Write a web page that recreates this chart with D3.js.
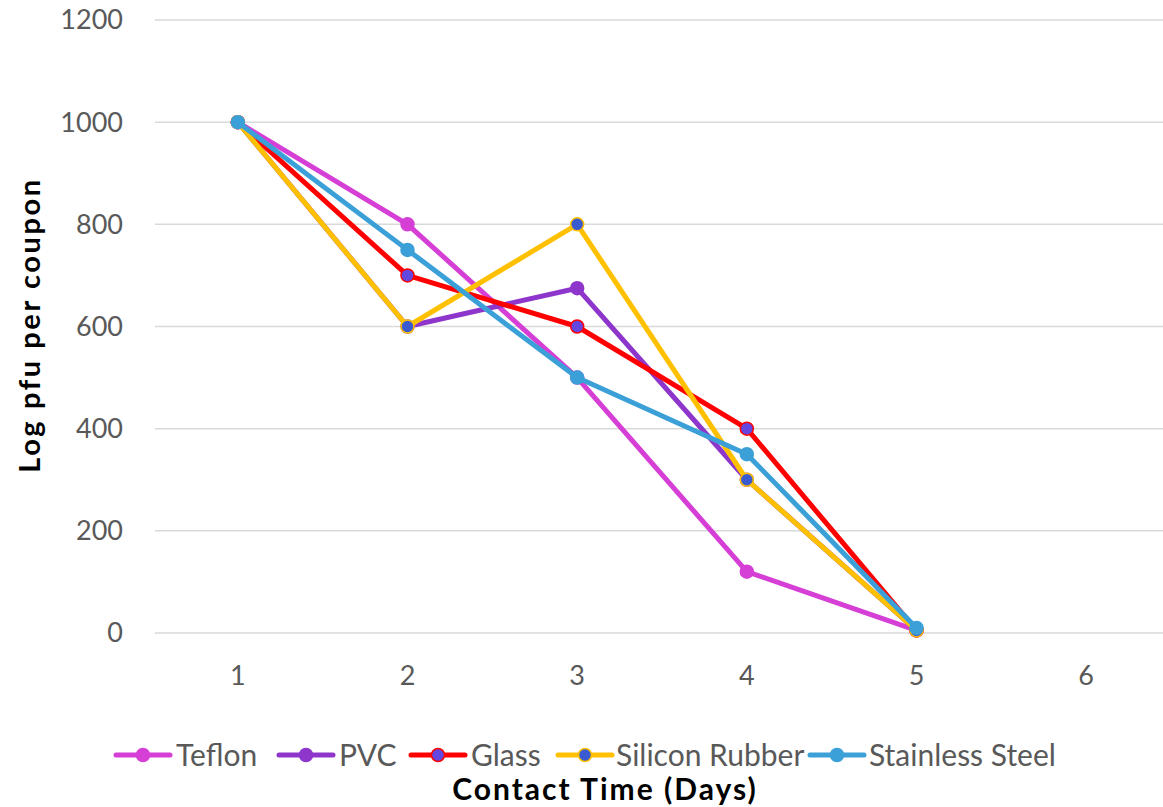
<!DOCTYPE html>
<html>
<head>
<meta charset="utf-8">
<script src="https://cdn.jsdelivr.net/npm/d3@7"></script>
<style>
  body { margin: 0; background: #fff; }
  svg { display: block; }
</style>
</head>
<body>
<div id="chart"></div>
<script>
const days = ["1", "2", "3", "4", "5", "6"]
const yTicks = [0, 200, 400, 600, 800, 1000, 1200]

const teflon = [1000, 800, 500, 120, 5]
const pvc = [1000, 600, 675, 300, 5]
const glass = [1000, 700, 600, 400, 5]
const siliconRubber = [1000, 600, 800, 300, 5]
const stainlessSteel = [1000, 750, 500, 350, 10]

const series = [
    {name: "Teflon", values: teflon, color: "#d63fd6", fill: "#d63fd6"},
    {name: "PVC", values: pvc, color: "#8e36cc", fill: "#8e36cc"},
    {name: "Glass", values: glass, color: "#ff0000", fill: "#6347e0"},
    {name: "Silicon Rubber", values: siliconRubber, color: "#ffc000", fill: "#3a5bd0"},
    {name: "Stainless Steel", values: stainlessSteel, color: "#3ca0d8", fill: "#3ca0d8"}
]

const WIDTH = 1163
const HEIGHT = 807
const font = "Lato, 'Open Sans', sans-serif"

const svg = d3.select("#chart")
    .append("svg")
    .attr("width", WIDTH)
    .attr("height", HEIGHT)

const x = d3.scaleBand()
    .domain(days)
    .range([153, 1171])

const y = d3.scaleLinear()
    .domain([0, 1200])
    .range([633, 20])

const cx = d => x(d) + x.bandwidth() / 2

// gridlines
svg.append("g")
    .selectAll("line")
    .data(yTicks)
    .enter()
    .append("line")
    .attr("x1", 155)
    .attr("x2", 1163)
    .attr("y1", d => y(d))
    .attr("y2", d => y(d))
    .attr("stroke", "#d9d9d9")
    .attr("stroke-width", 1.5)

// y tick labels
svg.append("g")
    .selectAll("text")
    .data(yTicks)
    .enter()
    .append("text")
    .attr("x", 123)
    .attr("y", d => y(d))
    .attr("dy", "0.35em")
    .attr("text-anchor", "end")
    .attr("font-family", font)
    .attr("font-size", "27px")
    .attr("fill", "#595959")
    .text(d => d)

// x tick labels
svg.append("g")
    .selectAll("text")
    .data(days)
    .enter()
    .append("text")
    .attr("x", d => cx(d))
    .attr("y", 676)
    .attr("dy", "0.35em")
    .attr("text-anchor", "middle")
    .attr("font-family", font)
    .attr("font-size", "27px")
    .attr("fill", "#595959")
    .text(d => d)

// axis titles
svg.append("text")
    .attr("transform", "translate(30,325) rotate(-90)")
    .attr("dy", "0.35em")
    .attr("text-anchor", "middle")
    .attr("font-family", font)
    .attr("font-weight", "bold")
    .attr("font-size", "29px")
    .attr("letter-spacing", "2.6px")
    .attr("fill", "#000")
    .text("Log pfu per coupon")

svg.append("text")
    .attr("x", 605)
    .attr("y", 789)
    .attr("dy", "0.35em")
    .attr("text-anchor", "middle")
    .attr("font-family", font)
    .attr("font-weight", "bold")
    .attr("font-size", "30px")
    .attr("letter-spacing", "2px")
    .attr("fill", "#000")
    .text("Contact Time (Days)")

const line = d3.line()
    .x((d, i) => cx(days[i]))
    .y(d => y(d))

series.forEach(s => {
    const g = svg.append("g")
    g.append("path")
        .attr("d", line(s.values))
        .attr("fill", "none")
        .attr("stroke", s.color)
        .attr("stroke-width", 5)
        .attr("stroke-linejoin", "round")
        .attr("stroke-linecap", "round")
    g.selectAll("circle")
        .data(s.values)
        .enter()
        .append("circle")
        .attr("cx", (d, i) => cx(days[i]))
        .attr("cy", d => y(d))
        .attr("r", 6.5)
        .attr("fill", s.fill)
        .attr("stroke", s.color)
        .attr("stroke-width", 1.5)
})

// legend
const legendPos = [
    {lx: 116, tx: 176},
    {lx: 279, tx: 339},
    {lx: 411, tx: 471},
    {lx: 558, tx: 616},
    {lx: 810, tx: 869}
]
const legendY = 755

series.forEach((s, i) => {
    const p = legendPos[i]
    const g = svg.append("g")
    g.append("line")
        .attr("x1", p.lx)
        .attr("x2", p.lx + 54)
        .attr("y1", legendY)
        .attr("y2", legendY)
        .attr("stroke", s.color)
        .attr("stroke-width", 5)
        .attr("stroke-linecap", "round")
    g.append("circle")
        .attr("cx", p.lx + 27)
        .attr("cy", legendY)
        .attr("r", 6.5)
        .attr("fill", s.fill)
        .attr("stroke", s.color)
        .attr("stroke-width", 1.5)
    g.append("text")
        .attr("x", p.tx)
        .attr("y", legendY)
        .attr("dy", "0.35em")
        .attr("font-family", font)
        .attr("font-size", "30px")
        .attr("fill", "#595959")
        .text(s.name)
})
</script>
</body>
</html>
